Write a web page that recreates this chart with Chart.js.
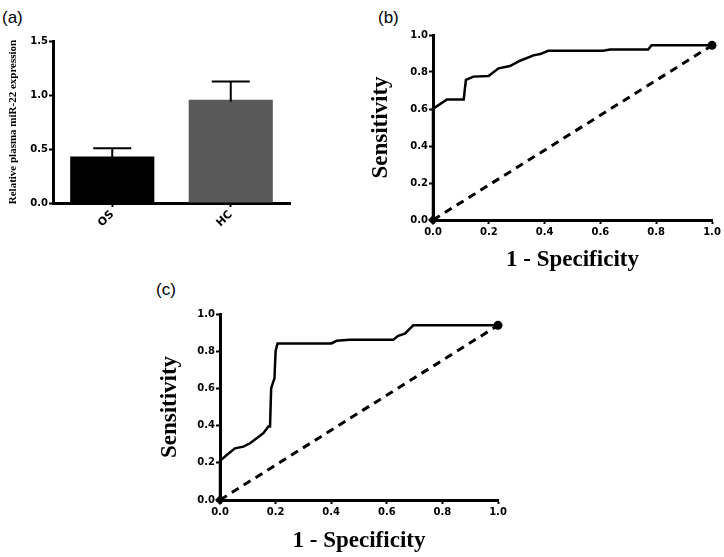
<!DOCTYPE html>
<html>
<head>
<meta charset="utf-8">
<script src="https://cdn.jsdelivr.net/npm/chart.js@4.4.1/dist/chart.umd.min.js"></script>
<style>
  body { margin: 0; background: #fff; width: 724px; height: 557px; position: relative; overflow: hidden; font-family: "Liberation Sans", Arial, sans-serif; }
  canvas { position: absolute; }
  .lbl { position: absolute; font-size: 17px; line-height: 1; color: #000; }
</style>
</head>
<body>
<div class="lbl" style="left:2px;top:9px">(a)</div>
<div class="lbl" style="left:378px;top:9px">(b)</div>
<div class="lbl" style="left:156px;top:281px">(c)</div>
<canvas id="barChart" width="300" height="230" style="left:0;top:28px"></canvas>
<canvas id="rocB" width="364" height="260" style="left:360px;top:20px"></canvas>
<canvas id="rocC" width="365" height="262" style="left:150px;top:295px"></canvas>
<script>
// (a) relative plasma miR-22 expression
const groups = ['OS', 'HC'];
const expr = [0.43, 0.955];
const exprSem = [0.078, 0.169];
const exprTicks = [0, 0.5, 1.0, 1.5];

// (b) ROC curve
const rocBX = [0, 0, 0.008, 0.05, 0.11, 0.118, 0.145, 0.199, 0.235, 0.276, 0.312, 0.36, 0.384, 0.413, 0.61, 0.634, 0.771, 0.783, 1.0];
const rocBY = [0, 0.604, 0.609, 0.652, 0.652, 0.757, 0.775, 0.778, 0.82, 0.832, 0.861, 0.89, 0.897, 0.915, 0.915, 0.922, 0.922, 0.944, 0.944];
const diagBX = [0, 1];
const diagBY = [0, 0.944];

// (c) ROC curve
const rocCX = [0, 0, 0.024, 0.054, 0.084, 0.108, 0.132, 0.156, 0.174, 0.18, 0.184, 0.19, 0.196, 0.2, 0.207, 0.401, 0.419, 0.467, 0.623, 0.641, 0.665, 0.695, 1.0];
const rocCY = [0, 0.21, 0.242, 0.278, 0.287, 0.305, 0.332, 0.359, 0.395, 0.395, 0.6, 0.628, 0.655, 0.8, 0.842, 0.842, 0.856, 0.862, 0.862, 0.883, 0.894, 0.939, 0.939];
const diagCX = [0, 1];
const diagCY = [0, 0.939];

const rocTicks = [0, 0.2, 0.4, 0.6, 0.8, 1.0];

const tickFont = { family: 'DejaVu Sans', weight: 'bold', size: 10 };
const titleFont = { family: 'Liberation Serif', weight: 'bold', size: 23 };

function toPoints(xs, ys) {
  return xs.map((x, i) => ({ x: x, y: ys[i] }));
}

const errorBars = {
  id: 'errorBars',
  afterDatasetsDraw(chart) {
    const meta = chart.getDatasetMeta(0);
    const y = chart.scales.y;
    const c = chart.ctx;
    c.save();
    c.strokeStyle = '#000';
    c.lineWidth = 2;
    meta.data.forEach((bar, i) => {
      const top = y.getPixelForValue(expr[i] + exprSem[i]);
      const base = y.getPixelForValue(expr[i]) + 2;
      c.beginPath();
      c.moveTo(bar.x, base);
      c.lineTo(bar.x, top);
      c.moveTo(bar.x - 19, top);
      c.lineTo(bar.x + 19, top);
      c.stroke();
    });
    c.restore();
  }
};

new Chart(document.getElementById('barChart'), {
  type: 'bar',
  data: {
    labels: groups,
    datasets: [{
      data: expr,
      backgroundColor: ['#000000', '#595959'],
      borderWidth: 0,
      barPercentage: 0.71,
      categoryPercentage: 1
    }]
  },
  options: {
    responsive: false,
    animation: false,
    layout: { padding: { top: 13, right: 10, left: 0, bottom: 0 } },
    plugins: { legend: { display: false }, tooltip: { enabled: false } },
    scales: {
      x: {
        grid: { offset: false, drawOnChartArea: false, color: '#000', tickLength: 4, tickWidth: 2 },
        border: { display: true, color: '#000', width: 3 },
        ticks: { color: '#000', font: { family: 'DejaVu Sans', weight: 'bold', size: 11 }, minRotation: 45, maxRotation: 45, padding: 1 },
        afterFit(s) { s.height = 55; }
      },
      y: {
        min: 0, max: 1.5,
        afterBuildTicks(s) { s.ticks = exprTicks.map(v => ({ value: v })); },
        grid: { drawOnChartArea: false, color: '#000', tickLength: 4, tickWidth: 2 },
        border: { display: true, color: '#000', width: 3 },
        ticks: { color: '#000', font: tickFont, padding: 1, callback: v => v.toFixed(1) },
        title: {
          display: true,
          text: 'Relative plasma miR-22 expression',
          color: '#000',
          font: { family: 'Liberation Serif', weight: 'bold', size: 11 },
          padding: { top: 7, bottom: 0 }
        },
        afterFit(s) { s.width = 53; }
      }
    }
  },
  plugins: [errorBars]
});

function makeRoc(id, xs, ys, dx, dy, pad, yWidth, xHeight, yTitlePad, xTitlePad) {
  const last = xs.length - 1;
  new Chart(document.getElementById(id), {
    type: 'scatter',
    data: {
      datasets: [{
        data: toPoints(xs, ys),
        showLine: true,
        borderColor: '#000',
        borderWidth: 2.5,
        backgroundColor: '#000',
        pointRadius: ctx => (ctx.dataIndex === 0 ? 5 : ctx.dataIndex === last ? 4.5 : 0),
        pointStyle: ctx => (ctx.dataIndex === 0 ? 'rectRot' : 'circle'),
        pointBorderWidth: 0,
        clip: false
      }, {
        data: toPoints(dx, dy),
        showLine: true,
        borderColor: '#000',
        borderWidth: 3,
        borderDash: [8, 6],
        pointRadius: 0,
        clip: false
      }]
    },
    options: {
      responsive: false,
      animation: false,
      layout: { padding: pad },
      plugins: { legend: { display: false }, tooltip: { enabled: false } },
      scales: {
        x: {
          type: 'linear', min: 0, max: 1,
          afterBuildTicks(s) { s.ticks = rocTicks.map(v => ({ value: v })); },
          grid: { drawOnChartArea: false, color: '#000', tickLength: 4, tickWidth: 2 },
          border: { display: true, color: '#000', width: 3 },
          ticks: { color: '#000', font: tickFont, padding: 2, maxRotation: 0, callback: v => v.toFixed(1) },
          title: { display: true, text: '1 - Specificity', color: '#000', font: titleFont, padding: { top: 0, bottom: xTitlePad } },
          afterFit(s) { s.height = xHeight; }
        },
        y: {
          type: 'linear', min: 0, max: 1,
          afterBuildTicks(s) { s.ticks = rocTicks.map(v => ({ value: v })); },
          grid: { drawOnChartArea: false, color: '#000', tickLength: 4, tickWidth: 2 },
          border: { display: true, color: '#000', width: 3 },
          ticks: { color: '#000', font: tickFont, padding: 1, callback: v => v.toFixed(1) },
          title: { display: true, text: 'Sensitivity', color: '#000', font: titleFont, padding: { top: yTitlePad, bottom: 0 } },
          afterFit(s) { s.width = yWidth; }
        }
      }
    }
  });
}

makeRoc('rocB', rocBX, rocBY, diagBX, diagBY, { top: 15, right: 12, left: 0, bottom: 0 }, 73, 60, 7, 6);
makeRoc('rocC', rocCX, rocCY, diagCX, diagCY, { top: 19, right: 17, left: 0, bottom: 0 }, 70, 57, 6, 2);
</script>
</body>
</html>
